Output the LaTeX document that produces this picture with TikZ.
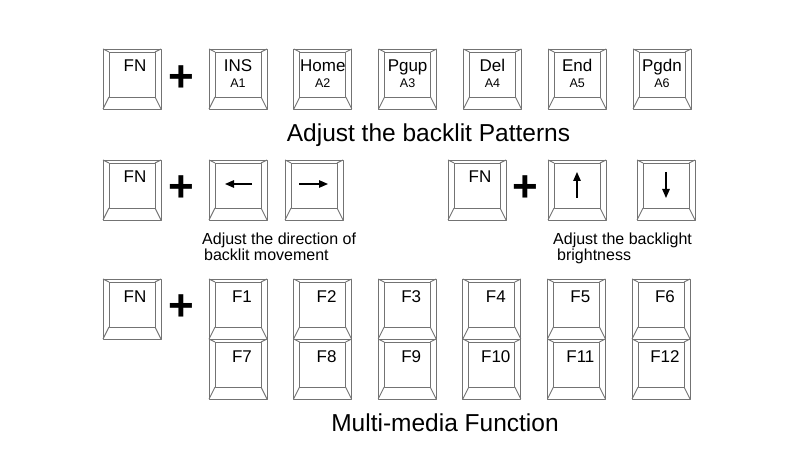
\documentclass[tikz,border=0pt]{standalone}
\usepackage{fontspec}
\setmainfont{Liberation Sans}
\usetikzlibrary{arrows.meta,positioning}

% one key cap: name, left, top
\newcommand{\keycap}[3]{%
  \node[keybox, anchor=north west] (#1) at (#2,#3) {};
  \coordinate (#1-a) at ([shift={(6,3)}]#1.north west);
  \coordinate (#1-b) at ([shift={(-6,3)}]#1.north east);
  \coordinate (#1-c) at ([shift={(-6,-12)}]#1.south east);
  \coordinate (#1-d) at ([shift={(6,-12)}]#1.south west);
  \draw[keyline] (#1.north west) -- (#1-a) (#1.north east) -- (#1-b)
    (#1.south east) -- (#1-c) (#1.south west) -- (#1-d);
  \draw[keyline] (#1.north west) rectangle (#1.south east);
  \draw[keyline] (#1-a) rectangle (#1-c);
}

\begin{document}
\begin{tikzpicture}[
  x=1pt, y=-1pt,
  keybox/.style = {minimum width=58pt, minimum height=60pt, inner sep=0pt, outer sep=0pt},
  keyline/.style = {draw=black!55, line width=0.9pt, line join=round},
  keytext/.style = {anchor=base, inner sep=0pt, font=\fontsize{17}{17}\selectfont},
  subtext/.style = {anchor=base, inner sep=0pt, font=\fontsize{12.5}{12.5}\selectfont},
  plus/.style = {inner sep=0pt, font=\fontsize{44}{44}\selectfont\bfseries},
  title/.style = {anchor=base, inner sep=0pt, font=\fontsize{24.5}{24.5}\selectfont},
  note/.style = {anchor=base west, inner sep=0pt, font=\fontsize{16}{16}\selectfont},
  arrow/.style = {-{Triangle[length=9pt,width=7.5pt]}, line width=1.3pt}]
  \useasboundingbox (0,0) rectangle (800,470);

  % rij 1 - patronen
  \keycap{fn1}{103}{49}
  \node[keytext] (fn1-t) at ([shift={(3,23)}]fn1.north) {FN};
  \node[plus] (p1) at (181,79) {+};
  \foreach \name/\sub [count=\i from 0] in {INS/A1, Home/A2, Pgup/A3, Del/A4, End/A5, Pgdn/A6} {
    \pgfmathsetmacro{\xx}{209+84.8*\i}
    \keycap{n\i}{\xx}{49}
    \node[keytext] (n\i-t) at ([shift={(0,23)}]n\i.north) {\name};
    \node[subtext] (n\i-s) at ([shift={(0,39)}]n\i.north) {\sub};
  }
  \node[title] (t1) at (428.5,142) {Adjust the backlit Patterns};

  % rij 2 - richting en helderheid
  \keycap{fn2}{103}{160}
  \node[keytext] (fn2-t) at ([shift={(3,23)}]fn2.north) {FN};
  \node[plus] (p2) at (181,189) {+};
  \keycap{left}{209}{160}
  \keycap{right}{285}{160}
  \draw[arrow] ([shift={(14,24)}]left.north) -- ([shift={(-13,24)}]left.north);
  \draw[arrow] ([shift={(-15,24)}]right.north) -- ([shift={(14,24)}]right.north);

  \keycap{fn3}{448}{160}
  \node[keytext] (fn3-t) at ([shift={(3,23)}]fn3.north) {FN};
  \node[plus] (p3) at (525,189) {+};
  \keycap{up}{548}{160}
  \keycap{down}{637}{160}
  \draw[arrow] ([shift={(0,38)}]up.north) -- ([shift={(0,12)}]up.north);
  \draw[arrow] ([shift={(0,12)}]down.north) -- ([shift={(0,38)}]down.north);

  \node[note] (t2a) at (202,245) {Adjust the direction of};
  \node[note] (t2b) at (204,261) {backlit movement};
  \node[note] (t3a) at (553,245) {Adjust the backlight};
  \node[note] (t3b) at (557,261) {brightness};

  % rij 3 en 4 - functietoetsen
  \keycap{fn4}{103}{279}
  \node[keytext] (fn4-t) at ([shift={(3,23)}]fn4.north) {FN};
  \node[plus] (p4) at (181,308) {+};
  \foreach \i in {1,...,6} {
    \pgfmathsetmacro{\j}{int(\i+6)}
    \pgfmathsetmacro{\xx}{209+84.6*(\i-1)}
    \keycap{f\i}{\xx}{279}
    \node[keytext] (f\i-t) at ([shift={(4,23)}]f\i.north) {F\i};
    \keycap{f\j}{\xx}{339}
    \node[keytext] (f\j-t) at ([shift={(4,23)}]f\j.north) {F\j};
  }
  \node[title] (t4) at (445,431) {Multi-media Function};

\end{tikzpicture}
\end{document}
